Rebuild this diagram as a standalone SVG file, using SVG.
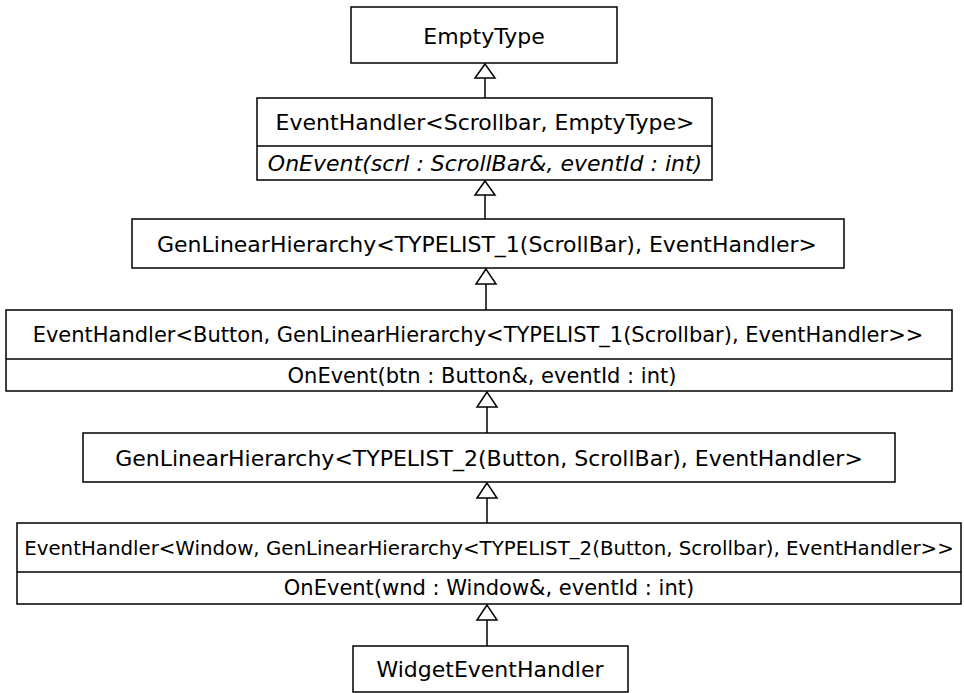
<svg xmlns="http://www.w3.org/2000/svg" width="964" height="693" viewBox="0 0 964 693">
<defs>
<style>
rect.box{fill:#fff;stroke:#000;stroke-width:1.5}
line.div{stroke:#000;stroke-width:1.5}
text{font-family:"DejaVu Sans","Verdana",sans-serif;font-size:22px;fill:#000;text-anchor:middle}
text.op{font-size:21px}
text.it{font-style:italic;font-size:22px}
.conn line{stroke:#000;stroke-width:1.5}
.conn polygon{fill:#fff;stroke:#000;stroke-width:1.5}
</style>
</defs>
<rect width="964" height="693" fill="#fff"/>
<g class="conn" id="connectors">
<line x1="485" y1="78" x2="485" y2="98"/><polygon points="485,64 475,78 495,78"/>
<line x1="485" y1="195" x2="485" y2="219"/><polygon points="485,181 475,195 495,195"/>
<line x1="486" y1="284" x2="486" y2="310"/><polygon points="486,269 476,284 496,284"/>
<line x1="487" y1="407" x2="487" y2="433"/><polygon points="487,392 477,407 497,407"/>
<line x1="487" y1="498" x2="487" y2="523"/><polygon points="487,483 477,498 497,498"/>
<line x1="487" y1="620" x2="487" y2="646"/><polygon points="487,605 477,620 497,620"/>
</g>
<g id="emptytype">
<rect class="box" x="351" y="7" width="266" height="56"/>
<text x="484" y="44">EmptyType</text>
</g>
<g id="eh-scrollbar">
<rect class="box" x="257" y="98" width="455" height="82"/>
<line class="div" x1="257" y1="146" x2="712" y2="146"/>
<text x="485" y="130">EventHandler&lt;Scrollbar, EmptyType&gt;</text>
<text class="it" x="485" y="171">OnEvent(scrl : ScrollBar&amp;, eventId : int)</text>
</g>
<g id="glh-1">
<rect class="box" x="132" y="219" width="712" height="49"/>
<text x="487" y="252">GenLinearHierarchy&lt;TYPELIST_1(ScrollBar), EventHandler&gt;</text>
</g>
<g id="eh-button">
<rect class="box" x="6" y="310" width="946" height="81"/>
<line class="div" x1="6" y1="359" x2="952" y2="359"/>
<text x="478" y="342" style="font-size:21px">EventHandler&lt;Button, GenLinearHierarchy&lt;TYPELIST_1(Scrollbar), EventHandler&gt;&gt;</text>
<text class="op" x="482" y="383">OnEvent(btn : Button&amp;, eventId : int)</text>
</g>
<g id="glh-2">
<rect class="box" x="83" y="433" width="812" height="49"/>
<text x="489" y="466">GenLinearHierarchy&lt;TYPELIST_2(Button, ScrollBar), EventHandler&gt;</text>
</g>
<g id="eh-window">
<rect class="box" x="17" y="523" width="944" height="81"/>
<line class="div" x1="17" y1="572" x2="961" y2="572"/>
<text x="489" y="555" style="font-size:19.8px">EventHandler&lt;Window, GenLinearHierarchy&lt;TYPELIST_2(Button, Scrollbar), EventHandler&gt;&gt;</text>
<text class="op" x="489" y="595">OnEvent(wnd : Window&amp;, eventId : int)</text>
</g>
<g id="widget">
<rect class="box" x="353" y="646" width="275" height="46"/>
<text x="490" y="677">WidgetEventHandler</text>
</g>
</svg>
